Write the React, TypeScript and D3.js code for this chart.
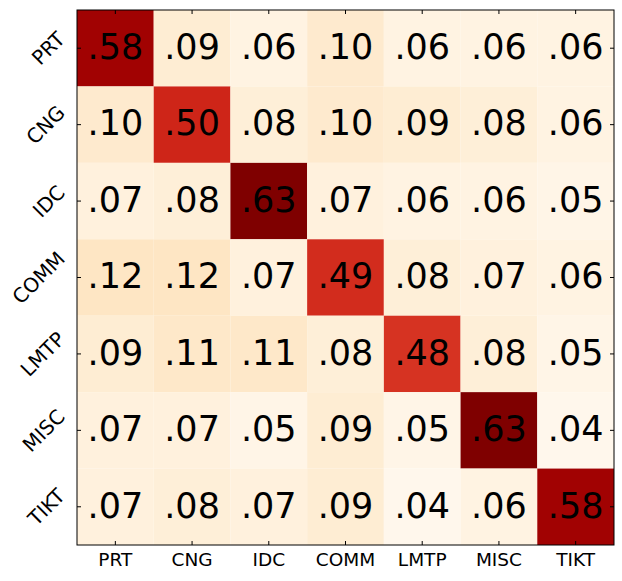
import React from "react";
import * as d3 from "d3";

const labels = ["PRT", "CNG", "IDC", "COMM", "LMTP", "MISC", "TIKT"];
const values: number[][] = [
  [0.58, 0.09, 0.06, 0.10, 0.06, 0.06, 0.06],
  [0.10, 0.50, 0.08, 0.10, 0.09, 0.08, 0.06],
  [0.07, 0.08, 0.63, 0.07, 0.06, 0.06, 0.05],
  [0.12, 0.12, 0.07, 0.49, 0.08, 0.07, 0.06],
  [0.09, 0.11, 0.11, 0.08, 0.48, 0.08, 0.05],
  [0.07, 0.07, 0.05, 0.09, 0.05, 0.63, 0.04],
  [0.07, 0.08, 0.07, 0.09, 0.04, 0.06, 0.58],
];

const fmt = (v: number) => v.toFixed(2).replace(/^0/, "");

const FONT = "'DejaVu Sans', sans-serif";
const LABEL_SIZE = 20;

function measure(text: string, size: number): number {
  if (typeof document === "undefined") return text.length * size * 0.65;
  const c = document.createElement("canvas").getContext("2d");
  if (!c) return text.length * size * 0.65;
  c.font = `${size}px 'DejaVu Sans'`;
  return c.measureText(text).width;
}

export default function App() {
  const W = 622, H = 581;
  const left = 77, right = 614, top = 10, bottom = 545;
  const x = d3.scaleBand<string>().domain(labels).range([left, right]);
  const y = d3.scaleBand<string>().domain(labels).range([top, bottom]);
  const flat = values.flat();
  const color = d3.scaleSequential(d3.interpolateOrRd).domain([d3.min(flat)!, d3.max(flat)!]);
  const tick = 4;
  const capH = LABEL_SIZE * 0.729;
  const yLabelRight = 65.5;
  return (
    <svg width={W} height={H} style={{ position: "absolute", left: 0, top: 0 }}>
      <rect width={W} height={H} fill="#fff" />
      {values.map((row, i) =>
        row.map((v, j) => (
          <rect key={`${i}-${j}`} x={x(labels[j])} y={y(labels[i])} width={x.bandwidth()} height={y.bandwidth()} fill={color(v)} />
        ))
      )}
      {values.map((row, i) =>
        row.map((v, j) => (
          <text key={`t${i}-${j}`} x={x(labels[j])! + x.bandwidth() / 2} y={y(labels[i])! + y.bandwidth() / 2 + 10.8}
            textAnchor="middle" fontFamily={FONT} fontSize={35} fill="#000">{fmt(v)}</text>
        ))
      )}
      <rect x={left} y={top} width={right - left} height={bottom - top} fill="none" stroke="#000" strokeWidth={1} />
      {labels.map((l) => {
        const cx = x(l)! + x.bandwidth() / 2;
        const cy = y(l)! + y.bandwidth() / 2;
        const L = measure(l, LABEL_SIZE) - 2;
        const inkW = (L + capH) * Math.SQRT1_2;
        const tx = yLabelRight - inkW / 2;
        return (
          <g key={l}>
            <line x1={cx} x2={cx} y1={bottom} y2={bottom - tick} stroke="#000" />
            <line x1={cx} x2={cx} y1={top} y2={top + tick} stroke="#000" />
            <line x1={left} x2={left + tick} y1={cy} y2={cy} stroke="#000" />
            <line x1={right} x2={right - tick} y1={cy} y2={cy} stroke="#000" />
            <text x={cx} y={bottom + 21} textAnchor="middle" fontFamily={FONT} fontSize={18.5}>{l}</text>
            <text transform={`translate(${tx},${cy}) rotate(-45)`} x={0} y={capH / 2} textAnchor="middle" fontFamily={FONT} fontSize={LABEL_SIZE}>{l}</text>
          </g>
        );
      })}
    </svg>
  );
}
